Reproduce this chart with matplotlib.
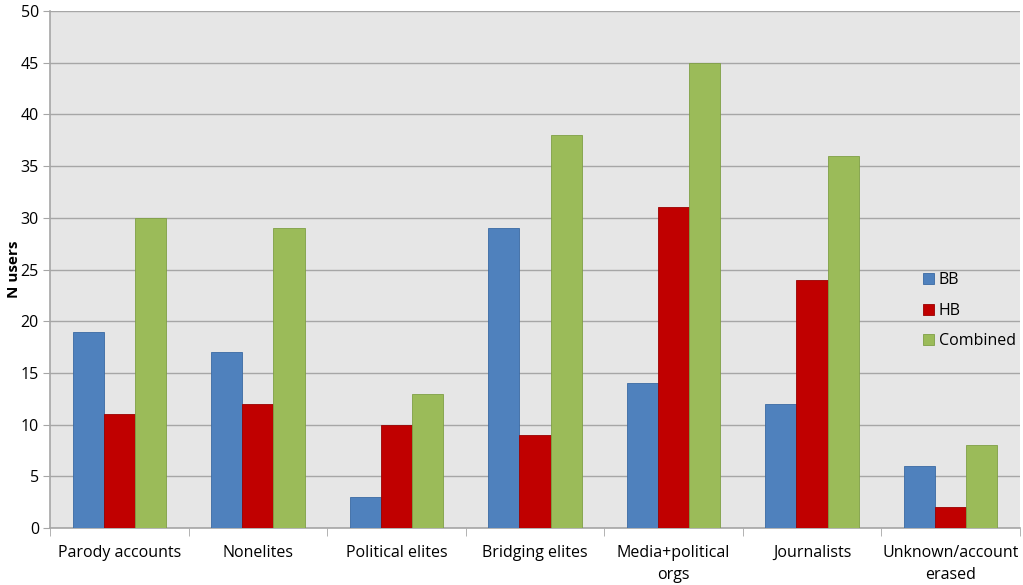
import matplotlib
matplotlib.use("Agg")
import matplotlib.pyplot as plt
import numpy as np

categories = ["Parody accounts", "Nonelites", "Political elites", "Bridging elites",
              "Media+political\norgs", "Journalists", "Unknown/account\nerased"]
bb = [19, 17, 3, 29, 14, 12, 6]
hb = [11, 12, 10, 9, 31, 24, 2]
combined = [30, 29, 13, 38, 45, 36, 8]
series_names = ["BB", "HB", "Combined"]
colors = ["#4f81bd", "#c00000", "#9bbb59"]
edges = ["#3a6aa3", "#9a0000", "#7f9f45"]

plt.rcParams['font.family'] = ['Open Sans', 'DejaVu Sans']

fig = plt.figure(figsize=(10.23, 5.85), dpi=100)
ax = fig.add_axes([0.0489, 0.0974, 0.948, 0.8838])
ax.set_facecolor("#e6e6e6")

x = np.arange(len(categories))
w = 0.225
for i, (vals, name) in enumerate(zip([bb, hb, combined], series_names)):
    ax.bar(x + (i - 1) * w, vals, width=w, color=colors[i], edgecolor=edges[i],
           linewidth=0.6, label=name, zorder=3)

ax.set_xlim(-0.5, len(categories) - 0.5)
ax.set_ylim(0, 50)
ax.set_yticks(range(0, 51, 5))
ax.yaxis.grid(True, color="#a6a6a6", linewidth=1.0, zorder=0)
ax.set_axisbelow(True)
ax.set_xticks(x)
ax.set_xticklabels(categories, fontsize=11.5, linespacing=1.5)
ax.set_xticks(np.arange(-0.5, len(categories), 1), minor=True)
ax.tick_params(axis='x', which='major', length=0, pad=12)
ax.tick_params(axis='x', which='minor', length=6, color="#a6a6a6", direction='out')
ax.tick_params(axis='y', length=5, color="#a6a6a6", labelsize=11.5, pad=3)
for s in ['top', 'right']:
    ax.spines[s].set_visible(False)
ax.spines['left'].set_color("#a6a6a6")
ax.spines['bottom'].set_color("#a6a6a6")
ax.spines['left'].set_linewidth(1.2)
ax.spines['bottom'].set_linewidth(1.2)

ax.set_ylabel("N users", fontsize=11, fontweight='bold')
ax.yaxis.set_label_coords(-0.030, 0.5)

leg = ax.legend(loc='center left', bbox_to_anchor=(0.885, 0.42), frameon=False,
                fontsize=11.5, handlelength=0.7, handleheight=0.7, handletextpad=0.3,
                labelspacing=0.9)

fig.savefig("out.png", dpi=100)
